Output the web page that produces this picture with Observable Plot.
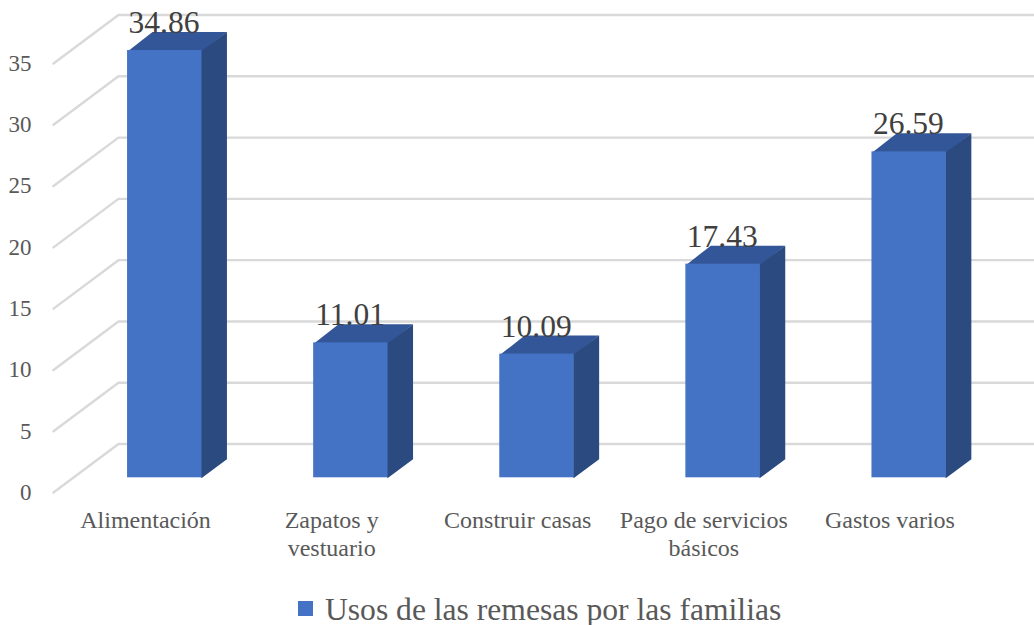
<!DOCTYPE html>
<html><head><meta charset="utf-8">
<script src="https://cdn.jsdelivr.net/npm/d3@7"></script>
<script src="https://cdn.jsdelivr.net/npm/@observablehq/plot@0.6"></script>
<style>
html,body{margin:0;padding:0;background:#fff;overflow:hidden}
#legend{display:flex;align-items:center;position:absolute;left:298px;top:590px;height:40px;font:31.6px "Liberation Serif",serif;color:#595959;white-space:nowrap}
#legend i{display:inline-block;width:15px;height:15px;background:#4472c4;margin-right:12px;position:relative;top:-2px}
</style></head><body>
<div id="chart"></div>
<div id="legend"><i></i><span>Usos de las remesas por las familias</span></div>
<script>
const categories = ["Alimentación","Zapatos y\nvestuario","Construir casas","Pago de servicios\nbásicos","Gastos varios"];
const values = [34.86,11.01,10.09,17.43,26.59];
const yTicks = [0,5,10,15,20,25,30,35];
const seriesName = "Usos de las remesas por las familias";

// 3-D projection, in scale units
const barShiftX = 0.098, barHalfW = 0.2, depthX = 0.134;
const gapY = 1.2, depthY = 1.51;
const wallX = 0.349, wallY = 3.955, wallEnd = 4.78, wallStart = -0.5;
const overlapX = 0.006, overlapY = 0.08; // faces tuck under the front face

const grid = yTicks.flatMap(t => [
  {t, x: wallStart, y: t},
  {t, x: wallStart + wallX, y: t + wallY},
  {t, x: wallEnd, y: t + wallY}
]);
const bars = values.map((v,i) => ({i, v,
  x1: i + barShiftX - barHalfW, x2: i + barShiftX + barHalfW,
  y1: gapY, y2: v + gapY}));
const topFace = bars.flatMap(b => [
  {i:b.i, x:b.x1, y:b.y2-overlapY},
  {i:b.i, x:b.x2, y:b.y2-overlapY},
  {i:b.i, x:b.x2+depthX, y:b.y2+depthY},
  {i:b.i, x:b.x1+depthX, y:b.y2+depthY}
]);
const sideFace = bars.flatMap(b => [
  {i:b.i, x:b.x2-overlapX, y:b.y1},
  {i:b.i, x:b.x2, y:b.y1},
  {i:b.i, x:b.x2+depthX, y:b.y1+depthY},
  {i:b.i, x:b.x2+depthX, y:b.y2+depthY},
  {i:b.i, x:b.x2, y:b.y2},
  {i:b.i, x:b.x2-overlapX, y:b.y2}
]);

const serif = "Liberation Serif, serif";
const plot = Plot.plot({
  width: 1034, height: 587,
  marginLeft: 53, marginRight: 50.5, marginTop: 63, marginBottom: 95,
  style: {background:"transparent", overflow:"visible"},
  x: {type:"linear", domain:[-0.5,4.5], label:null},
  y: {domain:[0,35], label:null},
  marks: [
    Plot.line(grid, {x:"x", y:"y", z:"t", stroke:"#d9d9d9", strokeWidth:2.4, curve:"linear"}),
    Plot.line(topFace, {x:"x", y:"y", z:"i", fill:"#325697", stroke:"none"}),
    Plot.line(sideFace, {x:"x", y:"y", z:"i", fill:"#2a4a80", stroke:"none"}),
    Plot.rect(bars, {x1:"x1", x2:"x2", y1:"y1", y2:"y2", fill:"#4472c4", inset:0}),
    Plot.text(bars, {x:d=>d.i+barShiftX, y:"y2", text:d=>d.v.toFixed(2), dy:-17.5, dx:-0.8, lineAnchor:"bottom", fontFamily:serif, fontSize:31.5, fill:"#404040"}),
    Plot.axisY({ticks:yTicks, tickSize:0, tickPadding:22, label:null, fontFamily:serif, fontSize:23, fill:"#595959"}),
    Plot.axisX({ticks:[0,1,2,3,4], tickFormat:i=>categories[i], tickSize:0, tickPadding:15, label:null, lineHeight:1.18, dx:-1, fontFamily:serif, fontSize:24, fill:"#595959"})
  ]
});
document.getElementById("chart").append(plot);
</script>
</body></html>
